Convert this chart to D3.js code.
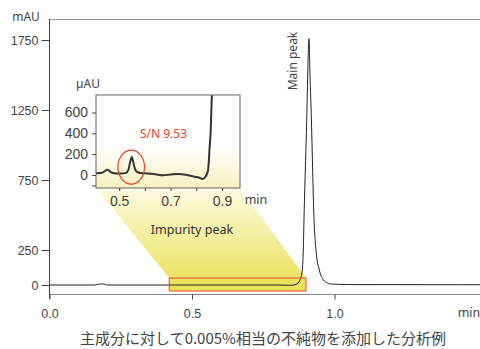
<!DOCTYPE html>
<html><head><meta charset="utf-8">
<script src="https://cdn.jsdelivr.net/npm/d3@7"></script>
<style>
html,body{margin:0;padding:0;background:#fff;}
svg{display:block;font-family:"Noto Sans","Open Sans",sans-serif;}
</style></head>
<body><svg id="c" width="480" height="349"></svg>
<script>
// ---- data ----
const mainTime  = [0.00,0.16,0.175,0.19,0.20,0.80,0.85,0.865,0.879,0.887,0.8905,0.8937,0.898,0.9025,0.906,0.9105,0.914,0.919,0.923,0.927,0.935,0.9467,0.961,0.975,0.99,1.05,1.51];
const mainValue = [0,0,7,7,0,0,-2,5,36,107,250,536,850,1179,1500,1760,1500,1179,850,536,250,107,36,15,7,3,2];
const mainYTicks = [0,250,750,1250,1750];
const mainXTicks = [0.0,0.5,1.0];
const mainXLabels = ["0.0","0.5","1.0"];

const insetTime  = [0.41,0.43,0.455,0.47,0.49,0.51,0.525,0.536,0.543,0.549,0.555,0.562,0.572,0.59,0.61,0.64,0.67,0.70,0.73,0.76,0.79,0.81,0.825,0.836,0.846,0.852,0.856,0.861];
const insetValue = [16,18,50,24,14,14,18,50,125,172,125,55,26,17,15,8,-3,4,10,2,-15,-25,-38,-15,48,272,420,800];
const insetYTicks = [-100,0,200,400,600];
const insetYLabels = ["","0","200","400","600"];
const insetXTicks = [0.5,0.6,0.7,0.8,0.9];
const insetXLabels = ["0.5","","0.7","","0.9"];

const zoomTime = [0.42, 0.90];      // highlighted region (min)
const zoomValue = [-43, 50];        // highlighted region (mAU)
const impurityPeak = {t:0.549, v:172};
const snText = "S/N 9.53";

// ---- main chart ----
const svg = d3.select("#c");
const x = d3.scaleLinear().domain([0,1]).range([49.5,334.5]);
const y = d3.scaleLinear().domain([0,1750]).range([285,40]);

const defs = svg.append("defs");
const g1 = defs.append("linearGradient").attr("id","trap").attr("x1",0).attr("y1",0).attr("x2",0).attr("y2",1);
g1.append("stop").attr("offset",0).attr("stop-color","#fcfae2");
g1.append("stop").attr("offset",1).attr("stop-color","#ebe463");
const g2 = defs.append("linearGradient").attr("id","ibg").attr("x1",0).attr("y1",0).attr("x2",0).attr("y2",1);
g2.append("stop").attr("offset",0.55).attr("stop-color","#ffffff");
g2.append("stop").attr("offset",1).attr("stop-color","#f6f1c0");

// inset geometry
const iL=96, iR=240, iT=95, iB=188;
const ix = d3.scaleLinear().domain([0.41,0.97]).range([iL,iR]);
const iy = d3.scaleLinear().domain([-125,768]).range([iB,iT]);

// frame lines
svg.append("line").attr("x1",49.5).attr("x2",480).attr("y1",19.5).attr("y2",19.5).attr("stroke","#999");
svg.append("line").attr("x1",49.5).attr("x2",480).attr("y1",294.5).attr("y2",294.5).attr("stroke","#888");

// trapezoid
const rx0 = x(zoomTime[0]), rx1 = x(zoomTime[1]), ry0 = y(zoomValue[1]), ry1 = y(zoomValue[0]);
svg.append("polygon")
  .attr("points",[[iL,iB],[iR,iB],[rx1,ry0],[rx0,ry0]].map(p=>p.join(",")).join(" "))
  .attr("fill","url(#trap)");
svg.append("rect").attr("x",rx0).attr("y",ry0).attr("width",rx1-rx0).attr("height",ry1-ry0)
  .attr("fill","#e9e35c");

// y axis
const yAxis = svg.append("g").attr("transform","translate(49.5,0)")
  .call(d3.axisLeft(y).tickValues(mainYTicks).tickSize(8).tickPadding(3).tickFormat(d3.format("d")));
yAxis.select(".domain").remove();
yAxis.selectAll(".tick line").attr("stroke","#444");
yAxis.selectAll("text").attr("font-size",12.5).attr("fill","#444");
svg.append("line").attr("x1",49.5).attr("x2",49.5).attr("y1",19).attr("y2",299).attr("stroke","#444");

// x axis
const xAxis = svg.append("g").attr("transform","translate(0,294.5)")
  .call(d3.axisBottom(x).tickValues(mainXTicks).tickSize(5).tickPadding(10).tickFormat((d,i)=>mainXLabels[i]));
xAxis.select(".domain").remove();
xAxis.selectAll(".tick line").attr("stroke","#444");
xAxis.selectAll("text").attr("font-size",12.5).attr("fill","#444");

svg.append("text").attr("x",26).attr("y",21).attr("text-anchor","middle").attr("font-size",12).attr("fill","#444").text("mAU");
svg.append("text").attr("x",469).attr("y",317).attr("text-anchor","middle").attr("font-size",12.5).attr("fill","#444").text("min");

// main trace
const line = d3.line().x(d=>x(d[0])).y(d=>y(d[1])).curve(d3.curveMonotoneX);
svg.append("path").datum(mainTime.map((t,i)=>[t,mainValue[i]]))
  .attr("d",line).attr("fill","none").attr("stroke","#222").attr("stroke-width",1);

// rect outline
svg.append("rect").attr("x",rx0).attr("y",ry0).attr("width",rx1-rx0).attr("height",ry1-ry0)
  .attr("fill","none").attr("stroke","#ee4a2c").attr("stroke-width",1);

svg.append("text").attr("transform","translate(297,61) rotate(-90)").attr("text-anchor","middle")
  .attr("font-size",12).attr("fill","#444").text("Main peak");

// ---- inset ----
svg.append("rect").attr("x",iL).attr("y",iT).attr("width",iR-iL).attr("height",iB-iT).attr("fill","url(#ibg)");
defs.append("clipPath").attr("id","iclip").append("rect").attr("x",iL).attr("y",iT).attr("width",iR-iL).attr("height",iB-iT);
const iline = d3.line().x(d=>ix(d[0])).y(d=>iy(d[1])).curve(d3.curveMonotoneX);
svg.append("path").datum(insetTime.map((t,i)=>[t,insetValue[i]]))
  .attr("d",iline).attr("fill","none").attr("stroke","#333").attr("stroke-width",2)
  .attr("clip-path","url(#iclip)");
svg.append("rect").attr("x",iL).attr("y",iT).attr("width",iR-iL).attr("height",iB-iT)
  .attr("fill","none").attr("stroke","#666").attr("stroke-width",1);

const iyAxis = svg.append("g").attr("transform",`translate(${iL},0)`)
  .call(d3.axisLeft(iy).tickValues(insetYTicks).tickSize(4).tickPadding(4).tickFormat((d,i)=>insetYLabels[i]));
iyAxis.select(".domain").remove();
iyAxis.selectAll(".tick line").attr("stroke","#444");
iyAxis.selectAll("text").attr("font-size",14).attr("fill","#444");

const ixAxis = svg.append("g").attr("transform",`translate(0,${iB})`)
  .call(d3.axisBottom(ix).tickValues(insetXTicks).tickSize(3).tickPadding(5).tickFormat((d,i)=>insetXLabels[i]));
ixAxis.select(".domain").remove();
ixAxis.selectAll(".tick line").attr("stroke","#444");
ixAxis.selectAll("text").attr("font-size",14).attr("fill","#444");

svg.append("text").attr("x",88).attr("y",88).attr("text-anchor","middle").attr("font-size",12).attr("fill","#444").text("µAU");
svg.append("text").attr("x",256).attr("y",204).attr("text-anchor","middle").attr("font-size",12.5).attr("fill","#444").text("min");

// impurity marker
svg.append("ellipse").attr("cx",ix(impurityPeak.t)-0.5).attr("cy",iy(impurityPeak.v)+10)
  .attr("rx",13.3).attr("ry",17).attr("fill","none").attr("stroke","#e8402a").attr("stroke-width",1.2);
svg.append("text").attr("x",163.5).attr("y",138).attr("text-anchor","middle").attr("font-size",12).attr("fill","#e8402a").text(snText);
svg.append("text").attr("x",192).attr("y",234).attr("text-anchor","middle").attr("font-size",12.5).attr("fill","#333").text("Impurity peak");

// caption
svg.append("text").attr("x",263).attr("y",344).attr("text-anchor","middle")
  .attr("font-family","'Noto Sans CJK JP',sans-serif").attr("font-size",15).attr("fill","#444")
  .text("主成分に対して0.005%相当の不純物を添加した分析例");
</script></body></html>
